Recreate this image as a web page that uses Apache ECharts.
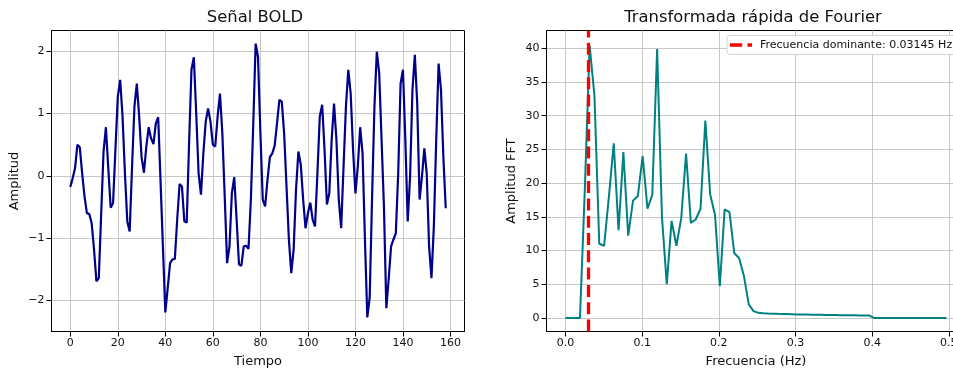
<!DOCTYPE html>
<html><head><meta charset="utf-8">
<script src="https://cdn.jsdelivr.net/npm/echarts@6/dist/echarts.min.js"></script>
<style>html,body{margin:0;padding:0;background:#fff}#c{width:953px;height:370px}</style>
</head><body><div id="c"></div>
<script>
// ---- Data ----
const boldSignal = [
-0.18,-0.04,0.12,0.50,0.46,0.04,-0.33,-0.60,-0.61,-0.76,
-1.18,-1.69,-1.64,-0.62,0.39,0.78,0.12,-0.51,-0.44,0.42,
1.27,1.54,0.95,0.04,-0.73,-0.89,0.15,1.11,1.48,0.95,
0.30,0.05,0.47,0.78,0.60,0.51,0.84,0.94,-0.10,-1.15,
-2.19,-1.80,-1.40,-1.34,-1.33,-0.70,-0.13,-0.17,-0.73,-0.75,
0.53,1.70,1.90,1.00,0.04,-0.30,0.36,0.87,1.08,0.87,
0.50,0.47,0.95,1.32,0.68,-0.34,-1.40,-1.13,-0.28,-0.02,
-0.70,-1.42,-1.44,-1.13,-1.12,-1.17,-0.38,0.82,2.12,1.91,
0.70,-0.38,-0.49,-0.06,0.30,0.36,0.48,0.84,1.22,1.19,
0.68,-0.17,-1.02,-1.56,-1.18,-0.22,0.39,0.18,-0.38,-0.84,
-0.60,-0.43,-0.70,-0.81,0.04,0.95,1.14,0.42,-0.46,-0.28,
0.58,1.16,0.58,-0.38,-0.84,0.15,1.11,1.70,1.32,0.42,
-0.28,0.15,0.78,0.36,-1.02,-2.27,-1.95,-0.35,1.11,1.99,
1.65,0.58,-0.49,-2.12,-1.65,-1.13,-1.02,-0.92,0.04,1.48,
1.70,0.58,-0.73,-0.01,1.38,1.94,1.16,-0.38,-0.01,0.44,
0.04,-1.13,-1.64,-0.81,0.58,1.80,1.38,0.31,-0.52
];
const fftAmplitude = [
0,0,0,0,19,40.4,33,11.0,10.7,18,
25.9,13.0,24.6,12.2,17.4,18.1,24.0,16.2,18.3,39.9,
15,5.0,14.4,10.7,14.8,24.4,14.1,14.6,16.2,29.3,
18.3,15.3,4.7,16.1,15.7,9.6,8.9,6.2,2.0,1.0,
0.75,0.70,0.66,0.63,0.60,0.58,0.56,0.54,0.52,0.50,
0.49,0.47,0.46,0.45,0.44,0.43,0.42,0.41,0.40,0.39,
0.38,0.37,0.36,0.35,0,0,0,0,0,0,
0,0,0,0,0,0,0,0,0,0
];
const sampleCount = 159;          // samples in BOLD signal (sampling interval 1 s)
const dominantFreq = 0.03145;     // Hz
const timeTicks = [0,20,40,60,80,100,120,140,160];
const ampTicks = [-2,-1,0,1,2];
const freqTicks = [0.0,0.1,0.2,0.3,0.4,0.5];
const fftTicks = [0,5,10,15,20,25,30,35,40];
const titles = ['Señal BOLD','Transformada rápida de Fourier'];
const legendLabel = 'Frecuencia dominante: ' + dominantFreq + ' Hz';

// ---- Build ----
const boldData = boldSignal.map((v,i)=>[i, v]);
const fftData = fftAmplitude.map((v,k)=>[k/sampleCount, v]);
const FONT = '"DejaVu Sans", sans-serif';
const TXT = '#111';
const GRIDC = '#c6c6c6';
const DASH = [12, 5.3];
const minus = s => String(s).replace('-', '\u2212');

function xAxisCfg(gi, min, max, ticks, fmt, name) {
  return {
    type:'value', gridIndex:gi, min:min, max:max,
    axisLine:{show:true, onZero:false, lineStyle:{color:'#000', width:1}},
    axisTick:{show:true, length:5, inside:false, lineStyle:{color:'#000', width:1}, customValues:ticks},
    axisLabel:{color:TXT, fontSize:11, fontFamily:FONT, margin:6, customValues:ticks, formatter:fmt, hideOverlap:false},
    splitLine:{show:true, lineStyle:{color:GRIDC, width:1}},
    name:name, nameLocation:'middle', nameGap:24,
    nameTextStyle:{color:TXT, fontSize:13, fontFamily:FONT}
  };
}
function yAxisCfg(gi, min, max, ticks, fmt, name, gap) {
  return {
    type:'value', gridIndex:gi, min:min, max:max,
    axisLine:{show:true, onZero:false, lineStyle:{color:'#000', width:1}},
    axisTick:{show:true, length:5, inside:false, lineStyle:{color:'#000', width:1}, customValues:ticks},
    axisLabel:{color:TXT, fontSize:11, fontFamily:FONT, margin:7, customValues:ticks, formatter:fmt},
    splitLine:{show:true, lineStyle:{color:GRIDC, width:1}},
    name:name, nameLocation:'middle', nameGap:gap, nameRotate:90,
    nameTextStyle:{color:TXT, fontSize:13, fontFamily:FONT}
  };
}

const chart = echarts.init(document.getElementById('c'));
chart.setOption({
  animation:false,
  backgroundColor:'#fff',
  textStyle:{fontFamily:FONT},
  grid:[
    {left:51.5, top:30.5, width:413, height:301, show:true, borderColor:'#000', borderWidth:1,
     backgroundColor:'rgba(0,0,0,0)', containLabel:false, outerBoundsMode:'none'},
    {left:546.5, top:30.5, width:419, height:301, show:true, borderColor:'#000', borderWidth:1,
     backgroundColor:'rgba(0,0,0,0)', containLabel:false, outerBoundsMode:'none'}
  ],
  xAxis:[
    xAxisCfg(0, -7.9, 165.9, timeTicks, v=>minus(Math.round(v)), 'Tiempo'),
    xAxisCfg(1, -0.0248, 0.5217, freqTicks, v=>v.toFixed(1), 'Frecuencia (Hz)')
  ],
  yAxis:[
    yAxisCfg(0, -2.495, 2.33, ampTicks, v=>minus(Math.round(v)), 'Amplitud', 30),
    yAxisCfg(1, -2.02, 42.65, fftTicks, v=>String(Math.round(v)), 'Amplitud FFT', 28)
  ],
  legend:{
    data:[legendLabel], left:727, top:35.5,
    backgroundColor:'#fff', borderColor:'#d4d4d4', borderWidth:1, borderRadius:3,
    padding:[4,8,4,3], itemWidth:22, itemHeight:3.4, itemGap:8,
    icon:'path://M0,0h12.2v3.4h-12.2z M17.5,0h4.5v3.4h-4.5z',
    textStyle:{color:TXT, fontSize:11, fontFamily:FONT, padding:[0,0,0,3]}
  },
  graphic:[
    {type:'text', style:{text:titles[0], x:255, y:18, textAlign:'center', textVerticalAlign:'middle', font:'16.4px "DejaVu Sans"', fill:TXT}},
    {type:'text', style:{text:titles[1], x:753, y:18, textAlign:'center', textVerticalAlign:'middle', font:'16.4px "DejaVu Sans"', fill:TXT}}
  ],
  series:[
    {type:'line', xAxisIndex:0, yAxisIndex:0, data:boldData, showSymbol:false, symbol:'none',
     lineStyle:{color:'#00008b', width:2.2}, itemStyle:{color:'#00008b'}, clip:true},
    {type:'line', xAxisIndex:1, yAxisIndex:1, data:fftData, showSymbol:false, symbol:'none',
     lineStyle:{color:'#008080', width:2}, itemStyle:{color:'#008080'}, clip:true},
    {type:'line', name:legendLabel, xAxisIndex:1, yAxisIndex:1, data:[], symbol:'none',
     itemStyle:{color:'#ff0000'}, lineStyle:{color:'#ff0000', width:3, type:DASH},
     markLine:{silent:true, symbol:'none', label:{show:false},
       lineStyle:{color:'#ff0000', width:3.3, type:DASH},
       data:[{xAxis:dominantFreq}]}}
  ]
});
</script></body></html>
